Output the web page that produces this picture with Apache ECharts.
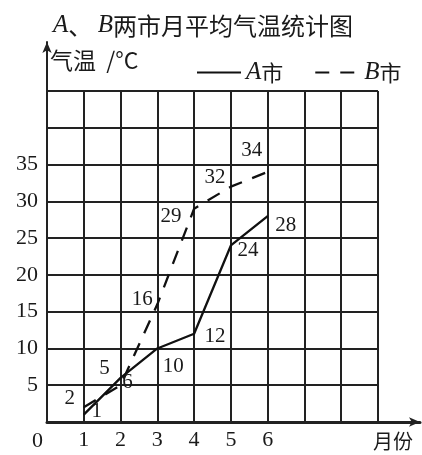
<!DOCTYPE html>
<html>
<head>
<meta charset="utf-8">
<script src="https://cdn.jsdelivr.net/npm/echarts@6/dist/echarts.min.js"></script>
<style>html,body{margin:0;padding:0;background:#fff}#c{width:422px;height:455px}</style>
</head>
<body>
<div id="c"></div>
<script>
// ---- data ----
const months = [1, 2, 3, 4, 5, 6];
const tempA = [1, 6, 10, 12, 24, 28];
const tempB = [2, 5, 16, 29, 32, 34];
const yTickLabels = [5, 10, 15, 20, 25, 30, 35];
const xTickLabels = [1, 2, 3, 4, 5, 6];
const seriesNames = ['A市', 'B市'];

// ---- label placement (layout only) ----
const offA = [[13, -3], [7, 5], [16, 18], [21, 3], [17, 5], [18, 9]];
const offB = [[-14, -9], [-16, -17], [-15, -5], [-23, 8], [-16, -9], [-16, -21]];

const serif = 'Liberation Serif';
const cjk = 'Noto Sans CJK SC';
const ink = '#1a1a1a';

function buildData(vals, offs) {
  return months.map((m, i) => ({
    value: [m, vals[i]],
    label: { offset: offs[i] }
  }));
}

const chart = echarts.init(document.getElementById('c'));
chart.setOption({
  animation: false,
  backgroundColor: '#fff',
  title: {
    text: '{i|A}、 {i|B}两市月平均气温统计图',
    left: 48, top: 8,
    textStyle: {
      fontFamily: cjk, fontSize: 24, fontWeight: 'normal', color: ink,
      rich: { i: { fontFamily: serif, fontStyle: 'italic', fontSize: 25, color: ink } }
    }
  },
  legend: {
    data: seriesNames,
    left: 191, top: 55,
    itemWidth: 44, itemHeight: 14, itemGap: 31,
    itemStyle: { opacity: 0 },
    formatter: n => '{i|' + n[0] + '}' + n.slice(1),
    textStyle: {
      fontFamily: cjk, fontSize: 22, color: ink,
      rich: { i: { fontFamily: serif, fontStyle: 'italic', fontSize: 25, color: ink } }
    }
  },
  grid: [
    { left: 47, right: 44, top: 91, bottom: 33 },
    { left: 47, right: 2, top: 42, bottom: 33 }
  ],
  xAxis: [
    {
      type: 'value', gridIndex: 0, min: 0, max: 9, interval: 1,
      axisLine: { show: false }, axisTick: { show: false },
      splitLine: { show: true, lineStyle: { color: '#222', width: 2 } },
      axisLabel: {
        margin: 7, fontFamily: serif, fontSize: 22, color: ink,
        formatter: v => (xTickLabels.indexOf(v) >= 0 ? String(v) : '')
      }
    },
    {
      type: 'value', gridIndex: 1, min: 0, max: 1,
      axisLine: { show: true, symbol: ['none', 'arrow'], symbolSize: [7, 11], lineStyle: { color: '#222', width: 3 } },
      axisTick: { show: false }, splitLine: { show: false }, axisLabel: { show: false },
      name: '月份', nameLocation: 'end', nameGap: -7,
      nameTextStyle: { fontFamily: cjk, fontSize: 20, color: ink, align: 'right', verticalAlign: 'top', padding: [9, 0, 0, 0] }
    }
  ],
  yAxis: [
    {
      type: 'value', gridIndex: 0, min: 0, max: 45, interval: 5,
      axisLine: { show: false }, axisTick: { show: false },
      splitLine: { show: true, lineStyle: { color: '#222', width: 2 } },
      axisLabel: {
        margin: 9, fontFamily: serif, fontSize: 22, color: ink,
        formatter: v => (yTickLabels.indexOf(v) >= 0 ? String(v) : '')
      }
    },
    {
      type: 'value', gridIndex: 1, min: 0, max: 1,
      axisLine: { show: true, symbol: ['none', 'arrow'], symbolSize: [7, 11], lineStyle: { color: '#222', width: 2 } },
      axisTick: { show: false }, splitLine: { show: false }, axisLabel: { show: false },
      name: '气温  /°C', nameLocation: 'end', nameGap: -18,
      nameTextStyle: { fontFamily: cjk, fontSize: 23, color: ink, align: 'left', verticalAlign: 'middle', padding: [0, 0, 0, 3] }
    }
  ],
  graphic: [
    { type: 'text', left: 32, top: 430, style: { text: '0', font: '22px "Liberation Serif"', fill: ink } }
  ],
  series: [
    {
      name: seriesNames[0], type: 'line', xAxisIndex: 0, yAxisIndex: 0,
      data: buildData(tempA, offA),
      symbol: 'circle', symbolSize: 1,
      itemStyle: { color: '#111' },
      lineStyle: { color: '#111', width: 2.3, type: 'solid' },
      label: { show: true, position: 'inside', fontFamily: serif, fontSize: 21, color: ink, formatter: p => String(p.value[1]) }
    },
    {
      name: seriesNames[1], type: 'line', xAxisIndex: 0, yAxisIndex: 0,
      data: buildData(tempB, offB),
      symbol: 'circle', symbolSize: 1,
      itemStyle: { color: '#111' },
      lineStyle: { color: '#111', width: 2.3, type: [14, 11] },
      label: { show: true, position: 'inside', fontFamily: serif, fontSize: 21, color: ink, formatter: p => String(p.value[1]) }
    }
  ]
});
</script>
</body>
</html>
